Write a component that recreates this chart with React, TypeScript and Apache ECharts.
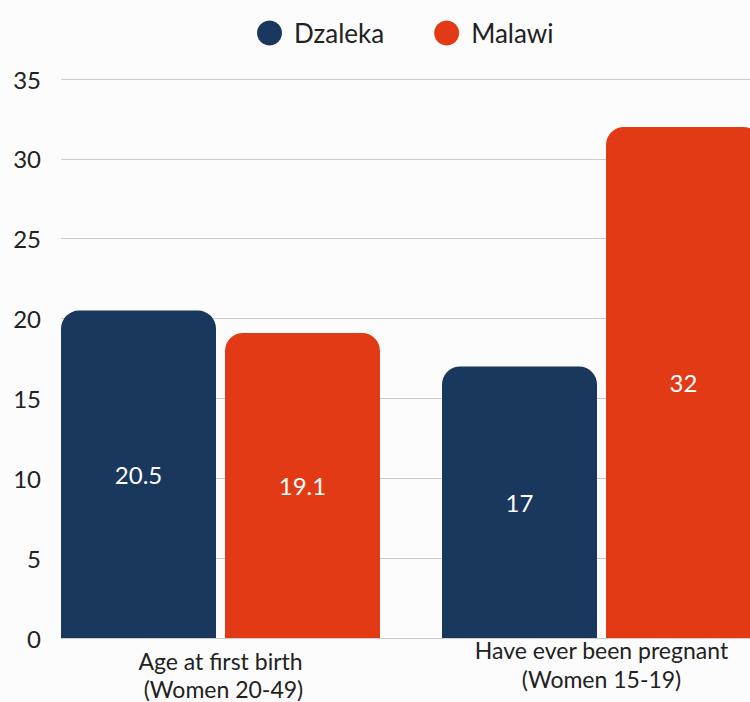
import React, { useEffect, useRef } from "react";
import * as echarts from "echarts";

const categories = ["Age at first birth\n (Women 20-49)", "Have ever been pregnant\n(Women 15-19)"];
const seriesNames = ["Dzaleka", "Malawi"];
const dzaleka = [20.5, 17];
const malawi = [19.1, 32];
const yTicks = { min: 0, max: 35, interval: 5 };
const colors = ["#1a375e", "#e23a15"];

export default function App() {
  const ref = useRef<HTMLDivElement>(null);
  useEffect(() => {
    document.body.style.margin = "0";
    const chart = echarts.init(ref.current!, null, { renderer: "svg" });
    const font = "Lato, 'Noto Sans', sans-serif";
    const labelStyle = {
      show: true,
      position: "inside",
      color: "#ffffff",
      fontSize: 24,
      fontFamily: font,
    };
    chart.setOption({
      animation: false,
      backgroundColor: "#fcfcfc",
      textStyle: { fontFamily: font },
      legend: {
        left: 252,
        top: 15,
        icon: "circle",
        itemWidth: 25,
        itemHeight: 25,
        itemGap: 50,
        textStyle: { fontSize: 26, color: "#222", fontFamily: font, padding: [0, 0, 0, 7] },
        data: seriesNames,
      },
      grid: [
        { left: 61, right: 0, top: 79, height: 559, containLabel: false, outerBoundsMode: "none" },
        { left: 30, width: 762, top: 79, height: 559, containLabel: false, outerBoundsMode: "none" },
      ],
      xAxis: [
        { gridIndex: 0, type: "value", show: false, min: 0, max: 1 },
        {
          gridIndex: 1,
          type: "category",
          data: categories.map((c, i) =>
            i === 0
              ? { value: c, textStyle: { padding: [12, 0, 0, 0], lineHeight: 28 } }
              : { value: c }
          ),
          axisLine: { show: false },
          axisTick: { show: false },
          axisLabel: {
            color: "#222",
            fontSize: 23,
            lineHeight: 29,
            margin: -3,
            fontFamily: font,
            interval: 0,
          },
        },
      ],
      yAxis: [
        {
          gridIndex: 0,
          type: "value",
          min: yTicks.min,
          max: yTicks.max,
          interval: yTicks.interval,
          axisLine: { show: false },
          axisTick: { show: false },
          axisLabel: { color: "#222", fontSize: 24, margin: 20, fontFamily: font },
          splitLine: { show: true, lineStyle: { color: "#cccccc", width: 1 } },
        },
        {
          gridIndex: 1,
          type: "value",
          min: yTicks.min,
          max: yTicks.max,
          interval: yTicks.interval,
          show: false,
          splitLine: { show: false },
        },
      ],
      series: [
        {
          name: seriesNames[0],
          type: "bar",
          xAxisIndex: 1,
          yAxisIndex: 1,
          data: dzaleka,
          barWidth: 155,
          barGap: "5.8%",
          itemStyle: { color: colors[0], borderRadius: [18, 18, 0, 0] },
          label: labelStyle,
        },
        {
          name: seriesNames[1],
          type: "bar",
          xAxisIndex: 1,
          yAxisIndex: 1,
          data: malawi,
          barWidth: 155,
          barGap: "5.8%",
          itemStyle: { color: colors[1], borderRadius: [18, 18, 0, 0] },
          label: labelStyle,
        },
      ],
    });
    return () => chart.dispose();
  }, []);
  return <div ref={ref} style={{ width: 750, height: 702 }} />;
}
